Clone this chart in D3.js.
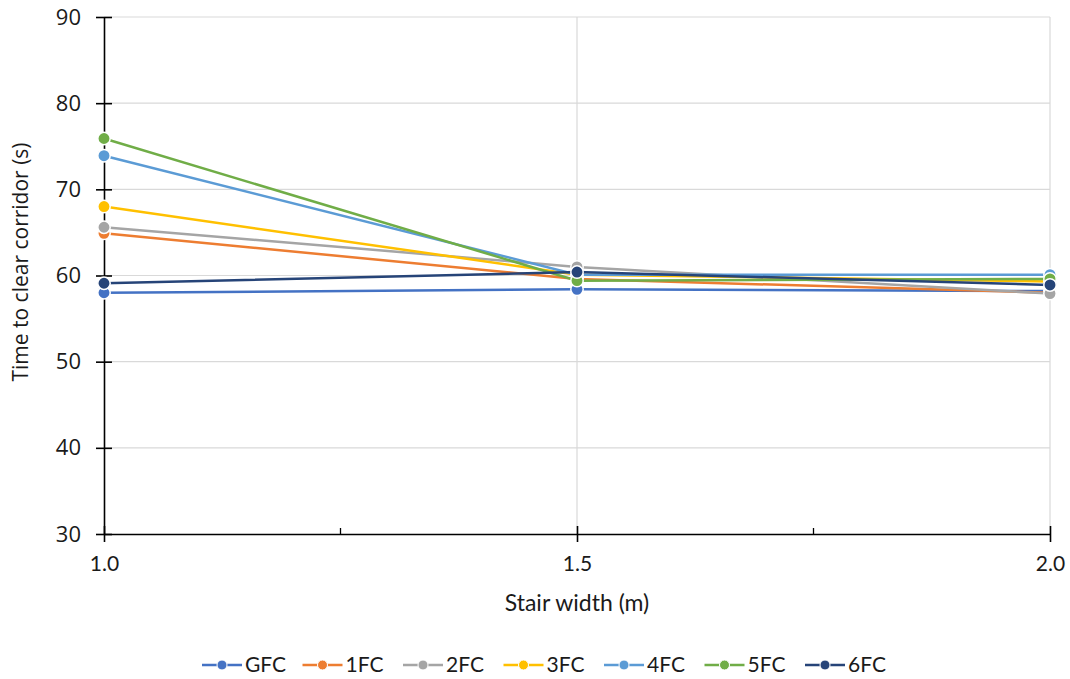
<!DOCTYPE html>
<html>
<head>
<meta charset="utf-8">
<script src="https://cdn.jsdelivr.net/npm/d3@7"></script>
<style>
  html, body { margin: 0; padding: 0; background: #fff; }
  svg { display: block; }
</style>
</head>
<body>
<svg id="chart" width="1070" height="679"></svg>
<script>
// ---- data ----
const xValues = [1.0, 1.5, 2.0];
const seriesNames = ["GFC", "1FC", "2FC", "3FC", "4FC", "5FC", "6FC"];
const seriesColors = ["#4472C4", "#ED7D31", "#A5A5A5", "#FFC000", "#5B9BD5", "#70AD47", "#264478"];
const GFC = [58.0, 58.4, 58.2];
const FC1 = [64.9, 59.6, 58.0];
const FC2 = [65.6, 61.0, 57.9];
const FC3 = [68.0, 60.1, 59.3];
const FC4 = [73.9, 60.1, 60.1];
const FC5 = [75.9, 59.4, 59.6];
const FC6 = [59.1, 60.4, 58.9];
const seriesValues = [GFC, FC1, FC2, FC3, FC4, FC5, FC6];
const xTicks = [1.0, 1.5, 2.0];
const xMinorTicks = [1.25, 1.75];
const yTicks = [30, 40, 50, 60, 70, 80, 90];
const xTitle = "Stair width (m)";
const yTitle = "Time to clear corridor (s)";

// ---- layout ----
const svg = d3.select("#chart");
const pLeft = 104, pRight = 1050, pTop = 17, pBottom = 534;
const x = d3.scaleLinear().domain([1.0, 2.0]).range([pLeft, pRight]);
const y = d3.scaleLinear().domain([30, 90]).range([pBottom, pTop]);
const tickFont = "'Open Sans', sans-serif";
const labelFont = "Lato, 'Open Sans', sans-serif";
const textColor = "#1a1a1a";

// gridlines
svg.append("g").selectAll("line").data(yTicks.filter(d => d !== 30)).join("line")
  .attr("x1", pLeft).attr("x2", pRight)
  .attr("y1", d => y(d)).attr("y2", d => y(d))
  .attr("stroke", "#d9d9d9").attr("stroke-width", 1.2);
svg.append("g").selectAll("line").data(xTicks.filter(d => d !== 1.0)).join("line")
  .attr("x1", d => x(d)).attr("x2", d => x(d))
  .attr("y1", pTop).attr("y2", pBottom)
  .attr("stroke", "#d9d9d9").attr("stroke-width", 1.2);

// y axis
const yAxis = svg.append("g").attr("transform", `translate(${pLeft},0)`)
  .call(d3.axisLeft(y).tickValues(yTicks).tickFormat(d3.format("d")).tickSizeInner(8).tickSizeOuter(0).tickPadding(9));
yAxis.select(".domain").attr("stroke", "#000").attr("stroke-width", 1.6);
yAxis.selectAll(".tick line").attr("x2", 8).attr("x1", -8).attr("stroke", "#000").attr("stroke-width", 1.6);
yAxis.selectAll(".tick text").attr("font-family", tickFont).attr("font-size", 22).attr("fill", textColor).attr("x", -23);

// x axis
const xAxis = svg.append("g").attr("transform", `translate(0,${pBottom})`)
  .call(d3.axisBottom(x).tickValues(xTicks).tickFormat(d3.format(".1f")).tickSizeInner(8).tickSizeOuter(0).tickPadding(14));
xAxis.select(".domain").attr("stroke", "#000").attr("stroke-width", 1.6);
xAxis.selectAll(".tick line").attr("y1", -8).attr("y2", 8).attr("stroke", "#000").attr("stroke-width", 1.6);
xAxis.selectAll(".tick text").attr("font-family", labelFont).attr("font-size", 21).attr("fill", textColor)
  .attr("y", 22).attr("dy", "0.71em");
svg.append("g").selectAll("line").data(xMinorTicks).join("line")
  .attr("x1", d => x(d)).attr("x2", d => x(d))
  .attr("y1", pBottom - 6).attr("y2", pBottom)
  .attr("stroke", "#000").attr("stroke-width", 1.3);

// titles
svg.append("text").attr("x", (pLeft + pRight) / 2).attr("y", 611)
  .attr("text-anchor", "middle").attr("font-family", labelFont).attr("font-size", 23).attr("fill", textColor)
  .text(xTitle);
svg.append("text").attr("transform", `translate(28,262) rotate(-90)`)
  .attr("text-anchor", "middle").attr("font-family", tickFont).attr("font-size", 21).attr("fill", textColor)
  .text(yTitle);

// series
const line = d3.line().x((d, i) => x(xValues[i])).y(d => y(d));
const sg = svg.append("g");
seriesValues.forEach((vals, si) => {
  const g = sg.append("g");
  g.append("path").datum(vals).attr("d", line)
    .attr("fill", "none").attr("stroke", seriesColors[si]).attr("stroke-width", 2.5);
  g.selectAll("circle").data(vals).join("circle")
    .attr("cx", (d, i) => x(xValues[i])).attr("cy", d => y(d)).attr("r", 6.2)
    .attr("fill", seriesColors[si]).attr("stroke", "#fff").attr("stroke-width", 1.5);
});

// legend
const legend = svg.append("g");
const legendY = 665;
seriesNames.forEach((name, i) => {
  const cx = 222 + i * 100.5;
  const g = legend.append("g");
  g.append("line").attr("x1", cx - 20).attr("x2", cx + 20).attr("y1", legendY).attr("y2", legendY)
    .attr("stroke", seriesColors[i]).attr("stroke-width", 2.5);
  g.append("circle").attr("cx", cx).attr("cy", legendY).attr("r", 5)
    .attr("fill", seriesColors[i]).attr("stroke", "#fff").attr("stroke-width", 1);
  g.append("text").attr("x", cx + 23).attr("y", legendY).attr("dy", "0.35em")
    .attr("font-family", labelFont).attr("font-size", 21).attr("fill", textColor).text(name);
});
</script>
</body>
</html>
